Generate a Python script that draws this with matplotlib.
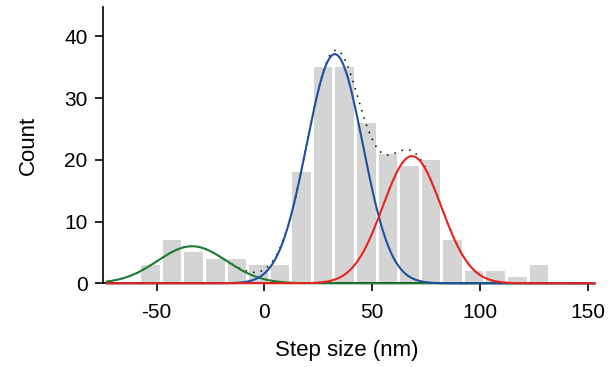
import numpy as np
import matplotlib
matplotlib.use("Agg")
import matplotlib.pyplot as plt

plt.rcParams['font.family'] = ['Liberation Sans', 'DejaVu Sans']
plt.rcParams['axes.unicode_minus'] = False

# histogram of step sizes (nm), 10 nm bins
bin_centers = [-52.8, -42.8, -32.8, -22.8, -12.8, -2.8, 7.2, 17.2, 27.2, 37.2,
               47.2, 57.2, 67.2, 77.2, 87.2, 97.2, 107.2, 117.2, 127.2]
counts = [3, 7, 5, 4, 4, 3, 3, 18, 35, 35, 26, 21, 19, 20, 7, 2, 2, 1, 3]

# gaussian components: amplitude, mean, sigma
fit_amp = [6.0, 37.1, 20.6]
fit_mean = [-33.6, 32.6, 68.4]
fit_sigma = [16.0, 13.0, 13.5]
fit_colors = ["#1f7a35", "#1f4fa0", "#e8231f"]


def gauss(x, a, m, s):
    return a * np.exp(-(x - m) ** 2 / (2 * s ** 2))


fig = plt.figure(figsize=(6.16, 3.67), dpi=100)
ax = fig.add_axes([0.1667, 0.228, 0.7913, 0.754])

ax.bar(bin_centers, counts, width=8.6, color="#d4d4d4", edgecolor="none", zorder=1)

x = np.linspace(-73, 153, 600)
total = np.zeros_like(x)
for a, m, s in zip(fit_amp, fit_mean, fit_sigma):
    total += gauss(x, a, m, s)
ax.plot(x, total, color="black", linestyle=(0, (1, 4)), linewidth=1.1, zorder=2)

for a, m, s, c in zip(fit_amp, fit_mean, fit_sigma, fit_colors):
    ax.plot(x, gauss(x, a, m, s), color=c, linewidth=1.5, zorder=3, clip_on=False)

ax.set_xlim(-75, 151)
ax.set_ylim(0, 44.8)
ax.set_xticks([-50, 0, 50, 100, 150])
ax.set_yticks([0, 10, 20, 30, 40])
ax.spines['top'].set_visible(False)
ax.spines['right'].set_visible(False)
ax.tick_params(direction='out', length=6, width=1.2, labelsize=15)
ax.tick_params(axis='x', pad=8)
ax.tick_params(axis='y', pad=5)
for sp in ['left', 'bottom']:
    ax.spines[sp].set_linewidth(1.2)

ax.set_xlabel("Step size (nm)", fontsize=16, labelpad=13)
ax.set_ylabel("Count", fontsize=16, labelpad=18)

fig.savefig("out.png", dpi=100)
